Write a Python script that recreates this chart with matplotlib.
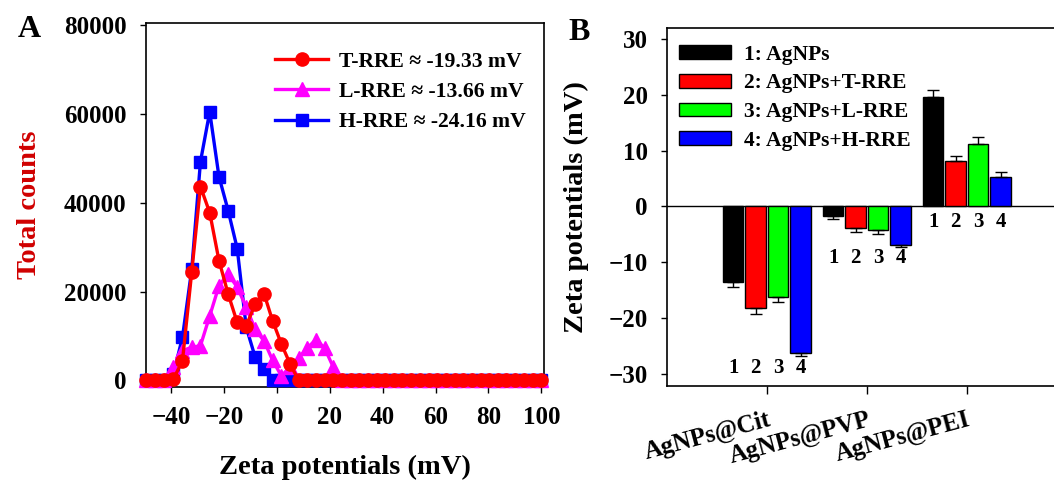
import numpy as np
import matplotlib
matplotlib.use("Agg")
import matplotlib.pyplot as plt
from matplotlib.lines import Line2D

plt.rcParams.update({
    "font.family": ["Liberation Serif", "DejaVu Serif"],
    "font.weight": "bold",
    "axes.labelweight": "bold",
    "axes.linewidth": 1.2,
})

# ── panel A: zeta potential distributions ─────────────────────────────────
zeta_mv = [-49.5, -46.0, -42.6, -39.1, -35.7, -32.2, -28.9, -25.4, -21.9, -18.4,
           -15.0, -11.6, -8.2, -4.8, -1.6, 1.7, 5.0, 8.2, 11.5, 14.8,
           18.1, 21.3, 24.6, 27.9, 31.2, 34.4, 37.7, 41.0, 44.3, 47.5,
           50.8, 54.1, 57.4, 60.6, 63.9, 67.2, 70.5, 73.7, 77.0, 80.3,
           83.6, 86.8, 90.1, 93.4, 96.7, 100.0]
t_rre = [0, 0, 0, 300, 4450, 24400, 43650, 37800, 27000, 19400,
         13050, 12300, 17150, 19400, 13400, 8200, 3700, 0, 0, 0,
         0, 0, 0, 0, 0, 0, 0, 0, 0, 0,
         0, 0, 0, 0, 0, 0, 0, 0, 0, 0,
         0, 0, 0, 0, 0, 0]
l_rre = [0, 0, 0, 3000, 6700, 7450, 7800, 14500, 21300, 23900,
         21000, 16500, 11500, 8800, 4500, 1000, 3000, 5000, 7300, 9200,
         7200, 3000, 0, 0, 0, 0, 0, 0, 0, 0,
         0, 0, 0, 0, 0, 0, 0, 0, 0, 0,
         0, 0, 0, 0, 0, 0]
h_rre = [0, 0, 0, 1500, 9700, 25000, 49250, 60500, 45900, 38200,
         29700, 12000, 5200, 2600, 0, 0, 0, 0, 0, 0,
         0, 0, 0, 0, 0, 0, 0, 0, 0, 0,
         0, 0, 0, 0, 0, 0, 0, 0, 0, 0,
         0, 0, 0, 0, 0, 0]
dist_labels = ["T-RRE \u2248 -19.33 mV", "L-RRE \u2248 -13.66 mV", "H-RRE \u2248 -24.16 mV"]

# ── panel B: zeta potentials by coating ───────────────────────────────────
coatings = ["AgNPs@Cit", "AgNPs@PVP", "AgNPs@PEI"]
samples = ["1: AgNPs", "2: AgNPs+T-RRE", "3: AgNPs+L-RRE", "4: AgNPs+H-RRE"]
zeta_mean = [
    [-13.6, -1.75, 19.7],   # AgNPs
    [-18.3, -3.8, 8.2],     # +T-RRE
    [-16.2, -4.3, 11.2],    # +L-RRE
    [-26.2, -7.0, 5.3],     # +H-RRE
]
zeta_err = [
    [0.9, 0.45, 1.1],
    [0.9, 0.7, 0.9],
    [0.9, 0.6, 1.3],
    [0.7, 0.2, 0.8],
]
bar_colors = ["#000000", "#ff0000", "#00ff00", "#0000ff"]

fig = plt.figure(figsize=(10.54, 4.84), dpi=100)
axA = fig.add_axes([0.1385, 0.2004, 0.3776, 0.752])
axB = fig.add_axes([0.6328, 0.2025, 0.3795, 0.7396])

# panel A
axA.plot(zeta_mv, h_rre, color="#0000ff", marker="s", ms=8.5, lw=2.4, zorder=3, clip_on=False)
axA.plot(zeta_mv, l_rre, color="#ff00ff", marker="^", ms=9.5, lw=2.4, zorder=4, clip_on=False)
axA.plot(zeta_mv, t_rre, color="#ff0000", marker="o", ms=9.5, lw=2.4, zorder=5, clip_on=False)
axA.set_xlim(-49.5, 101)
axA.set_ylim(-1500, 80500)
axA.set_xticks([-40, -20, 0, 20, 40, 60, 80, 100])
axA.set_yticks([0, 20000, 40000, 60000, 80000])
axA.tick_params(direction="out", length=4, width=1, labelsize=18, pad=10,
                top=False, right=False)
for lab in axA.get_xticklabels() + axA.get_yticklabels():
    lab.set_fontweight("bold")
axA.set_xlabel("Zeta potentials (mV)", fontsize=20.5, labelpad=18)
axA.set_ylabel("Total counts", fontsize=20.5, color="#d00000", labelpad=16)

handles = [
    Line2D([], [], color="#ff0000", marker="o", ms=9.5, lw=2.4),
    Line2D([], [], color="#ff00ff", marker="^", ms=9.5, lw=2.4),
    Line2D([], [], color="#0000ff", marker="s", ms=8.5, lw=2.4),
]
axA.legend(handles, dist_labels, loc="upper left", bbox_to_anchor=(0.325, 0.922),
           frameon=False, borderpad=0, borderaxespad=0, numpoints=1,
           handlelength=2.45, handletextpad=0.5, labelspacing=0.47,
           prop={"size": 15.6, "weight": "bold"})

# panel B
xpos = np.arange(1, len(coatings) + 1)
width = 0.205
step = 0.225
for i, (vals, errs, col, lab) in enumerate(zip(zeta_mean, zeta_err, bar_colors, samples)):
    vals = np.array(vals)
    errs = np.array(errs)
    xs = xpos + (i - 1.5) * step
    yerr = np.vstack([np.where(vals < 0, errs, 0), np.where(vals >= 0, errs, 0)])
    axB.bar(xs, vals, width=width, color=col, edgecolor="black", linewidth=1,
            label=lab, zorder=2)
    axB.errorbar(xs, vals, yerr=yerr, fmt="none", ecolor="black", elinewidth=1,
                 capsize=4, capthick=1, zorder=3)

# numbers under each group
means = np.array(zeta_mean)
errs_all = np.array(zeta_err)
for j in range(len(coatings)):
    low = float(np.min(means[:, j] - errs_all[:, j]))
    ytxt = low - 2.0 if low < 0 else -2.8
    for i in range(len(samples)):
        axB.text(xpos[j] + (i - 1.5) * step, ytxt, str(i + 1), ha="center", va="center",
                 fontsize=15, fontweight="bold")

axB.axhline(0, color="black", lw=1, zorder=1)
axB.set_xlim(0, 4)
axB.set_ylim(-32.2, 32)
axB.set_yticks([-30, -20, -10, 0, 10, 20, 30])
axB.set_xticks(xpos)
axB.set_xticklabels(coatings, rotation=15, ha="right", va="top",
                    rotation_mode="anchor", fontsize=18, fontweight="bold")
axB.tick_params(direction="out", length=4, width=1, labelsize=18, pad=10,
                top=False, right=False)
axB.tick_params(axis="x", length=6, pad=10)
for lab in axB.get_yticklabels():
    lab.set_fontweight("bold")
axB.spines["right"].set_visible(False)
axB.set_ylabel("Zeta potentials (mV)", fontsize=20.5, labelpad=14)
axB.legend(loc="upper left", bbox_to_anchor=(0.03, 0.953), frameon=False,
           borderpad=0, borderaxespad=0, handlelength=2.4, handleheight=0.6,
           handletextpad=0.6, labelspacing=0.4,
           prop={"size": 15.5, "weight": "bold"})

fig.text(0.028, 0.94, "A", fontsize=23, fontweight="bold", ha="center", va="center")
fig.text(0.549, 0.932, "B", fontsize=23, fontweight="bold", ha="center", va="center")

fig.savefig("out.png", dpi=100)
